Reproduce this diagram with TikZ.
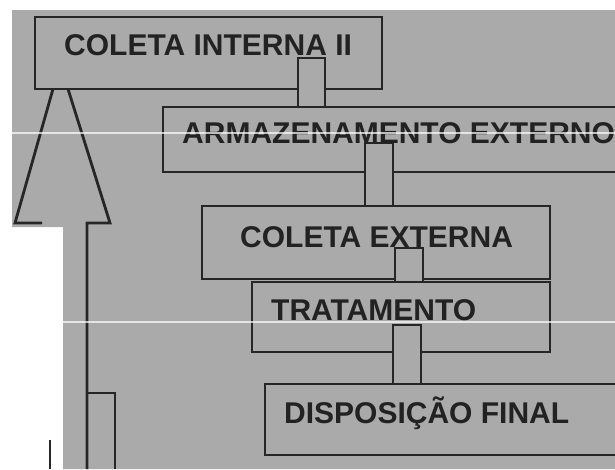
\documentclass[tikz,border=0pt]{standalone}
\usepackage{fontspec}
\setmainfont{Liberation Sans}
\definecolor{bgc}{HTML}{AAAAAA}
\definecolor{ink}{HTML}{262626}
\definecolor{txt}{HTML}{222222}
\tikzset{
  box/.style={draw=ink, fill=bgc, line width=2.8pt, inner sep=0pt, rectangle},
  pipe/.style={draw=ink, line width=2.8pt, line join=miter},
  pipefill/.style={fill=bgc},
  lbl/.style={text=txt, inner sep=0pt, anchor=base west, font=\fontsize{30}{35}\selectfont\bfseries},
  streak/.style={draw=white, line width=1.3pt, opacity=0.7}
}
\begin{document}
\begin{tikzpicture}[x=1pt,y=-1pt]
\useasboundingbox (0,0) rectangle (615,469);
\fill[white] (0,0) rectangle (615,469);
\begin{scope}
\clip (0,0) rectangle (615,469);
% scanned grey area
\fill[bgc] (12,10) -- (615,10) -- (615,469) -- (63,469) -- (63,227) -- (12,227) -- cycle;

% box 1
\node[box, minimum width=347pt, minimum height=72pt] (b1) at (208.5,53) {};
% pipe 1
\coordinate (c1a) at (298,58);
\coordinate (c1b) at (325,58);
\fill[pipefill] (c1a) rectangle (325,107);
% box 2
\node[box, minimum width=477pt, minimum height=65pt] (b2) at (401.5,139.5) {};
\draw[pipe] (c1a |- b2.north) -- (c1a) -- (c1b) -- (c1b |- b2.north);

% pipe 2
\coordinate (c2a) at (365,143);
\coordinate (c2b) at (393,143);
\fill[pipefill] (c2a) rectangle (393,206);
% box 3
\node[box, minimum width=348pt, minimum height=73pt] (b3) at (202+174,206+36.5) {};
\draw[pipe] (c2a |- b3.north) -- (c2a) -- (c2b) -- (c2b |- b3.north);

% pipe 3
\coordinate (c3a) at (395,248);
\coordinate (c3b) at (423,248);
\fill[pipefill] (c3a) rectangle (423,282);
% box 4
\node[box, minimum width=298pt, minimum height=70pt] (b4) at (252+149,282+35) {};
\draw[pipe] (c3a |- b4.north) -- (c3a) -- (c3b) -- (c3b |- b4.north);

% pipe 4
\coordinate (c4a) at (393,325);
\coordinate (c4b) at (421,325);
\fill[pipefill] (c4a) rectangle (421,384);
% box 5
\node[box, minimum width=375pt, minimum height=71pt] (b5) at (265+187.5,384+35.5) {};
\draw[pipe] (c4a |- b5.north) -- (c4a) -- (c4b) -- (c4b |- b5.north);

% big hollow arrow rising to box 1
\coordinate (ha) at (53,89);
\coordinate (hb) at (68,89);
\coordinate (hl) at (15,223);
\coordinate (hr) at (110,223);
\coordinate (bl) at (42,223);
\coordinate (br) at (87,223);
\coordinate (sr) at (87,469);
\draw[pipe] (ha) -- (hl) -- (bl);
\draw[pipe] (hb) -- (hr) -- (br) -- (sr);
\coordinate (sl1) at (50,440);
\coordinate (sl2) at (50,469);
\draw[pipe] (sl1) -- (sl2);
% small box at bottom left
\coordinate (r1) at (87,393);
\coordinate (r2) at (115,393);
\coordinate (r3) at (115,469);
\draw[pipe] (r1) -- (r2) -- (r3);

% labels
\node[lbl] (t1) at (64,55) {COLETA INTERNA II};
\node[lbl] (t2) at (182,143) {ARMAZENAMENTO EXTERNO};
\node[lbl] (t3) at (240,247) {COLETA EXTERNA};
\node[lbl] (t4) at (271,320) {TRATAMENTO};
\node[lbl] (t5) at (284,423) {DISPOSIÇÃO FINAL};

% scan streaks
\draw[streak] (12,133) -- (615,133);
\draw[streak] (63,322) -- (615,322);
\end{scope}
\end{tikzpicture}
\end{document}
